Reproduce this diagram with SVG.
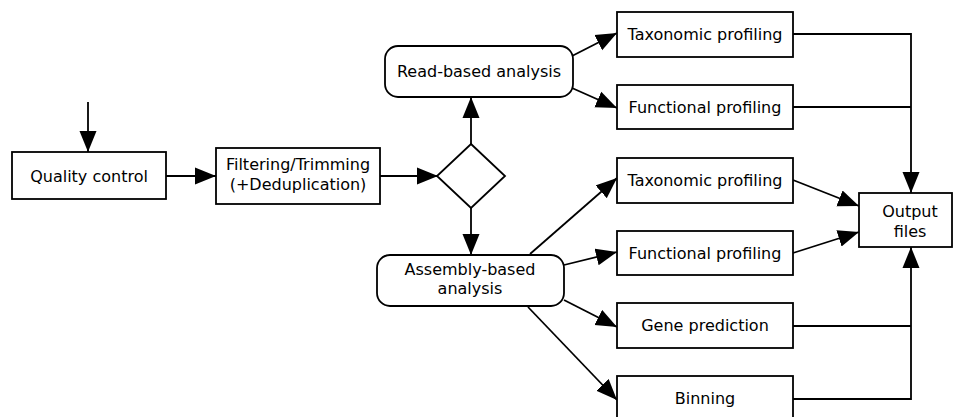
<svg xmlns="http://www.w3.org/2000/svg" width="954" height="417" viewBox="0 0 954 417">
<style>
.box{fill:#fff;stroke:#000;stroke-width:1.8}
.lbl{font-family:"DejaVu Sans",sans-serif;font-size:16px;fill:#000;text-anchor:middle}
.ln{fill:none;stroke:#000;stroke-width:1.8}
.ar{marker-end:url(#ah)}
</style>
<defs>
<marker id="ah" markerUnits="userSpaceOnUse" markerWidth="22" markerHeight="18" refX="21" refY="9" orient="auto">
<path d="M0,0.5 L21,9 L0,17.5 Z" fill="#000"/>
</marker>
</defs>
<rect width="954" height="417" fill="#fff"/>
<g id="connectors">
<line class="ln ar" x1="88" y1="102" x2="88" y2="152"/>
<line class="ln ar" x1="166" y1="176" x2="216" y2="176"/>
<line class="ln ar" x1="380" y1="176" x2="438" y2="176"/>
<line class="ln ar" x1="471" y1="144" x2="471" y2="97"/>
<line class="ln ar" x1="471" y1="208" x2="471" y2="255"/>
<line class="ln ar" x1="572" y1="56" x2="617" y2="33"/>
<line class="ln ar" x1="572" y1="88" x2="617" y2="108"/>
<line class="ln ar" x1="530" y1="254" x2="617" y2="178"/>
<line class="ln ar" x1="564" y1="265" x2="617" y2="252"/>
<line class="ln ar" x1="564" y1="300" x2="617" y2="327"/>
<line class="ln ar" x1="528" y1="307" x2="617" y2="400"/>
<polyline class="ln ar" points="793,34 911,34 911,193"/>
<line class="ln" x1="793" y1="107" x2="911" y2="107"/>
<line class="ln ar" x1="793" y1="180" x2="859" y2="206"/>
<line class="ln ar" x1="793" y1="253" x2="859" y2="232"/>
<polyline class="ln ar" points="793,399 911,399 911,247"/>
<line class="ln" x1="793" y1="326" x2="911" y2="326"/>
</g>
<g id="quality-control">
<rect class="box" x="12" y="152" width="154" height="47"/>
<text class="lbl" x="89" y="182">Quality control</text>
</g>
<g id="filtering">
<rect class="box" x="216" y="148" width="164" height="56"/>
<text class="lbl" x="298" y="170">Filtering/Trimming</text>
<text class="lbl" x="298" y="190">(+Deduplication)</text>
</g>
<g id="decision">
<polygon class="box" points="471,144 505,176 471,208 437,176"/>
</g>
<g id="read-based">
<rect class="box" x="385" y="46" width="188" height="51" rx="13"/>
<text class="lbl" x="479" y="77">Read-based analysis</text>
</g>
<g id="assembly-based">
<rect class="box" x="377" y="255" width="187" height="51" rx="13"/>
<text class="lbl" x="470" y="275">Assembly-based</text>
<text class="lbl" x="470" y="294">analysis</text>
</g>
<g id="tax1">
<rect class="box" x="617" y="12" width="176" height="45"/>
<text class="lbl" x="705" y="40">Taxonomic profiling</text>
</g>
<g id="func1">
<rect class="box" x="617" y="85" width="176" height="44"/>
<text class="lbl" x="705" y="113">Functional profiling</text>
</g>
<g id="tax2">
<rect class="box" x="617" y="158" width="176" height="45"/>
<text class="lbl" x="705" y="186">Taxonomic profiling</text>
</g>
<g id="func2">
<rect class="box" x="617" y="231" width="176" height="44"/>
<text class="lbl" x="705" y="259">Functional profiling</text>
</g>
<g id="gene">
<rect class="box" x="617" y="303" width="176" height="45"/>
<text class="lbl" x="705" y="331">Gene prediction</text>
</g>
<g id="binning">
<rect class="box" x="617" y="376" width="176" height="45"/>
<text class="lbl" x="705" y="404">Binning</text>
</g>
<g id="output">
<rect class="box" x="859" y="193" width="93" height="54"/>
<text class="lbl" x="910" y="217">Output</text>
<text class="lbl" x="910" y="237">files</text>
</g>
</svg>
